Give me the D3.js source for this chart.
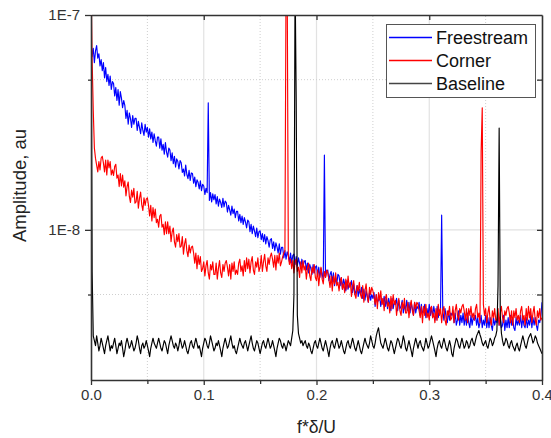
<!DOCTYPE html>
<html>
<head>
<meta charset="utf-8">
<script src="https://cdn.jsdelivr.net/npm/d3@7"></script>
<style>
  body { margin: 0; background: #fff; }
  svg { display: block; font-family: "Liberation Sans", Arial, sans-serif; }
</style>
</head>
<body>
<div id="chart"></div>
<script>
const width = 551;
const height = 438;
const margin = { top: 15, right: 9, bottom: 58, left: 91 };

// spectra, amplitude in units of 1e-9 au, one value per 0.001 of f*delta/U (0 .. 0.4)
const unit = 1e-9;
const df = 0.001;

const freestream = [
  75, 64, 70, 60, 68, 72, 63, 66, 58, 62,
  55, 60, 51, 57, 49, 53, 47, 52, 45, 49,
  48, 42, 46, 40, 45, 38, 44, 41, 37, 40,
  38, 33, 36, 31, 35, 33, 30, 34, 31, 33,
  33, 29, 32, 30, 28, 31.5, 29, 27.5, 31, 28.5,
  30, 27, 29.5, 26.5, 28.5, 25.5, 28, 26, 24.5, 27,
  27, 24, 26.5, 23.5, 25, 22.5, 25.5, 23, 21.8, 24,
  23.5, 21, 22.8, 20.3, 22, 19.6, 21.4, 20.8, 19.2, 21,
  20.5, 18.5, 19.2, 17.8, 20, 18.1, 17.3, 18.9, 17.0, 18.4,
  18.3, 16.5, 17.6, 15.9, 17.1, 16.6, 15.5, 16.9, 15.2, 16.3,
  16.0, 14.6, 15.6, 14.9, 39, 13.7, 14.9, 13.5, 14.7, 13.8,
  14.6, 13.2, 14.3, 12.9, 13.9, 13.4, 12.7, 14.0, 12.8, 13.6,
  13.4, 12.1, 13.0, 12.4, 11.7, 12.9, 11.9, 12.5, 11.4, 12.2,
  12.2, 11.0, 11.8, 10.8, 11.6, 10.6, 11.4, 10.9, 10.2, 11.1,
  10.9, 9.8, 10.6, 9.6, 10.4, 9.9, 9.3, 10.2, 9.2, 9.8,
  9.9, 9.0, 9.6, 8.8, 9.5, 8.6, 9.3, 8.9, 8.3, 9.0,
  9.1, 8.2, 8.8, 8.0, 8.7, 8.3, 7.8, 8.6, 7.7, 8.3,
  8.3, 7.4, 8.0, 7.3, 7.9, 7.6, 7.1, 7.8, 7.0, 7.6,
  7.7, 6.9, 7.5, 6.8, 7.4, 7.0, 6.6, 7.3, 6.7, 7.1,
  7.2, 6.5, 7.0, 6.3, 6.9, 6.6, 6.2, 6.9, 6.3, 6.7,
  6.8, 6.1, 6.7, 6.0, 6.6, 6.2, 5.9, 22.3, 6.0, 6.4,
  6.5, 5.8, 6.2, 6.4, 5.7, 6.3, 5.5, 6.0, 5.6, 6.2,
  6.1, 5.5, 6.0, 5.3, 5.9, 5.6, 5.2, 5.8, 5.3, 5.6,
  5.5, 5.8, 5.1, 5.6, 5.0, 5.2, 5.5, 4.9, 5.3, 5.0,
  5.4, 4.8, 5.3, 4.7, 5.2, 4.9, 4.6, 5.1, 4.7, 5.0,
  4.8, 5.1, 4.4, 5.0, 4.6, 4.7, 4.9, 4.4, 4.8, 4.5,
  4.9, 4.4, 4.8, 4.3, 4.8, 4.5, 4.2, 4.8, 4.3, 4.6,
  4.5, 4.8, 4.2, 4.7, 4.3, 4.4, 4.7, 4.1, 4.5, 4.2,
  4.7, 4.2, 4.6, 4.1, 4.6, 4.3, 4.0, 4.6, 4.1, 4.4,
  4.3, 4.6, 4.0, 4.5, 4.1, 4.2, 4.5, 3.9, 4.3, 4.0,
  4.5, 4.0, 4.4, 3.9, 4.4, 4.1, 3.8, 4.4, 3.9, 4.2,
  4.3, 11.7, 4.2, 3.8, 4.3, 3.9, 3.7, 4.2, 3.8, 4.1,
  4.0, 4.2, 3.7, 4.1, 3.6, 3.8, 4.2, 3.6, 4.0, 3.7,
  4.1, 3.6, 4.0, 3.6, 4.1, 3.7, 3.5, 4.0, 3.6, 3.9,
  3.8, 4.0, 3.6, 3.9, 3.5, 3.7, 4.0, 3.5, 3.8, 3.6,
  4.0, 3.5, 3.9, 3.5, 3.9, 3.6, 3.4, 3.9, 3.6, 3.8,
  3.7, 4.0, 3.6, 3.9, 3.5, 3.6, 4.0, 3.4, 3.8, 3.5,
  3.9, 3.5, 4.0, 3.6, 3.9, 3.5, 3.4, 3.9, 3.6, 3.8,
  3.6, 4.0, 3.5, 3.9, 3.6, 3.5, 3.9, 3.5, 3.8, 3.6,
  4.0, 3.5, 3.9, 3.6, 3.9, 3.6, 3.4, 3.8, 3.7, 4.0,
  4.6
];

const corner = [
  150, 62, 36, 24, 21.5, 20.0, 18.6, 20.8, 19.0, 21.6,
  22.0, 20.5, 18.6, 21.1, 18.0, 21.1, 19.4, 20.8, 18.0, 19.0,
  17.9, 19.7, 20.2, 17.4, 18.0, 15.9, 18.3, 16.0, 18.0, 15.8,
  16.9, 14.4, 15.9, 16.7, 14.3, 13.4, 15.3, 14.2, 15.6, 13.3,
  13.5, 15.1, 12.6, 14.0, 15.0, 13.1, 12.3, 14.1, 13.0, 13.9,
  14.1, 13.0, 11.6, 13.0, 11.0, 12.7, 11.4, 12.5, 10.8, 11.2,
  10.3, 11.6, 11.8, 10.3, 10.6, 9.5, 10.9, 9.6, 10.9, 9.6,
  10.4, 8.8, 9.8, 10.2, 8.8, 8.3, 9.5, 8.8, 9.6, 8.3,
  8.4, 9.3, 7.7, 8.6, 9.1, 8.0, 7.5, 8.5, 7.8, 8.3,
  8.4, 7.8, 7.0, 7.8, 6.6, 7.6, 6.9, 7.5, 6.4, 6.6,
  7.1, 6.1, 6.8, 7.2, 6.3, 5.9, 6.9, 6.5, 7.1, 6.2,
  6.2, 7.0, 5.9, 6.6, 7.2, 6.3, 6.0, 6.9, 6.4, 7.0,
  7.2, 6.7, 6.1, 6.9, 5.9, 7.0, 6.4, 7.1, 6.2, 6.5,
  6.2, 7.0, 7.3, 6.4, 6.8, 6.1, 7.2, 6.4, 7.4, 6.6,
  7.3, 6.3, 7.1, 7.5, 6.5, 6.2, 7.1, 6.7, 7.4, 6.4,
  6.7, 7.6, 6.4, 7.1, 7.7, 6.8, 6.4, 7.4, 6.9, 7.5,
  7.8, 7.3, 6.7, 7.6, 6.5, 7.6, 7.0, 7.8, 6.8, 7.1,
  7.5, 7.8, 8.0, 150, 150, 7.6, 6.9, 7.3, 6.6, 7.2,
  6.3, 7.1, 7.3, 6.4, 6.7, 6.0, 7.1, 6.3, 7.2, 6.5,
  6.8, 5.9, 6.6, 7.0, 6.1, 5.8, 6.7, 6.3, 6.9, 6.0,
  5.8, 6.5, 5.5, 6.2, 6.7, 5.9, 5.6, 6.4, 6.0, 6.5,
  6.3, 5.9, 5.4, 6.1, 5.2, 6.1, 5.6, 6.3, 5.5, 5.7,
  5.2, 5.8, 6.0, 5.3, 5.6, 5.1, 5.9, 5.3, 6.1, 5.4,
  5.7, 4.9, 5.5, 5.8, 5.0, 4.8, 5.5, 5.2, 5.7, 5.0,
  4.8, 5.5, 4.6, 5.2, 5.6, 4.9, 4.6, 5.4, 5.0, 5.4,
  5.2, 4.9, 4.5, 5.0, 4.3, 5.1, 4.7, 5.2, 4.5, 4.8,
  4.2, 4.8, 5.0, 4.4, 4.6, 4.1, 4.9, 4.3, 5.0, 4.5,
  4.7, 4.0, 4.5, 4.8, 4.2, 4.0, 4.6, 4.3, 4.8, 4.1,
  4.1, 4.6, 3.9, 4.4, 4.7, 4.2, 4.0, 4.6, 4.3, 4.6,
  4.5, 4.2, 3.9, 4.4, 3.7, 4.4, 4.0, 4.5, 3.9, 4.1,
  3.8, 4.3, 4.4, 3.9, 4.1, 3.7, 4.3, 3.8, 4.5, 4.0,
  4.3, 3.7, 4.2, 4.4, 3.8, 3.6, 4.2, 4.0, 4.4, 3.8,
  3.9, 4.4, 3.7, 4.2, 4.5, 4.0, 3.8, 4.3, 4.1, 4.4,
  4.5, 4.2, 3.8, 4.3, 3.7, 4.3, 4.0, 4.4, 3.9, 4.1,
  3.8, 4.3, 4.5, 3.9, 4.1, 3.7, 23, 37, 4.5, 4.0,
  4.3, 3.7, 4.1, 4.4, 3.8, 3.6, 4.2, 3.9, 4.3, 3.8,
  3.8, 4.3, 3.6, 4.1, 4.4, 3.9, 3.7, 4.2, 4.0, 4.3,
  4.4, 4.1, 3.7, 4.2, 3.6, 4.2, 3.9, 4.3, 3.8, 4.0,
  3.7, 4.2, 4.4, 3.8, 4.0, 3.6, 4.3, 3.8, 4.4, 3.9,
  4.3, 3.7, 4.1, 4.4, 3.8, 3.6, 4.2, 3.9, 4.3, 3.8,
  3.9
];

const baseline = [
  150, 6.4, 3.21, 3.05, 2.89, 3.21, 2.97, 2.73, 2.89, 3.13,
  2.97, 2.81, 2.65, 2.89, 3.05, 3.21, 2.97, 2.73, 2.89, 2.81,
  2.97, 3.13, 2.89, 2.65, 2.81, 2.97, 2.89, 3.05, 2.81, 2.57,
  2.73, 2.97, 3.13, 2.97, 2.81, 2.89, 3.05, 2.89, 2.73, 2.81,
  2.97, 3.21, 3.05, 2.81, 2.65, 2.89, 2.97, 2.81, 2.89, 3.05,
  2.89, 2.73, 2.57, 2.81, 2.97, 3.13, 2.97, 2.89, 2.81, 2.97,
  3.13, 2.97, 2.81, 2.73, 2.89, 3.05, 2.97, 2.81, 2.65, 2.89,
  3.05, 3.21, 3.05, 2.89, 2.81, 2.97, 2.89, 2.73, 2.89, 3.13,
  2.97, 2.81, 2.89, 3.05, 2.89, 2.73, 2.65, 2.81, 2.97, 3.05,
  2.89, 2.81, 2.97, 3.13, 2.97, 2.81, 2.89, 2.73, 2.57, 2.81,
  2.97, 3.13, 3.05, 2.89, 2.81, 2.97, 3.21, 3.05, 2.89, 2.73,
  2.81, 2.97, 2.89, 3.05, 2.89, 2.73, 2.57, 2.81, 2.97, 3.13,
  2.97, 2.81, 2.89, 3.05, 3.21, 2.97, 2.81, 2.89, 2.73, 2.65,
  2.81, 2.97, 3.13, 2.97, 2.89, 2.81, 2.97, 3.05, 2.89, 2.73,
  2.89, 3.05, 3.21, 2.97, 2.81, 2.73, 2.89, 3.05, 2.97, 2.81,
  2.65, 2.81, 2.97, 3.05, 2.89, 2.81, 2.97, 3.13, 2.97, 2.81,
  2.89, 3.05, 2.89, 2.73, 2.57, 2.81, 2.97, 3.13, 3.05, 2.89,
  2.81, 2.97, 2.89, 2.73, 2.89, 3.05, 2.97, 2.89, 3.13, 3.4,
  5.0, 150, 40, 4.0, 3.3, 3.13, 2.97, 3.05, 2.89, 2.97,
  3.05, 2.89, 2.81, 2.97, 2.89, 2.73, 2.65, 2.81, 2.97, 3.05,
  2.89, 2.81, 2.97, 3.13, 2.97, 2.81, 2.73, 2.89, 3.05, 2.89,
  2.73, 2.57, 2.81, 2.97, 3.05, 2.89, 2.81, 2.97, 3.13, 2.97,
  2.81, 2.89, 3.05, 2.89, 2.73, 2.65, 2.81, 2.97, 3.05, 2.89,
  2.81, 2.97, 3.13, 2.97, 2.81, 2.73, 2.89, 3.05, 2.89, 2.73,
  2.65, 2.81, 2.97, 3.13, 2.97, 2.89, 2.81, 2.97, 3.21, 3.05,
  2.89, 2.81, 2.97, 3.21, 3.37, 3.5, 3.21, 2.97, 2.89, 2.81,
  2.97, 3.13, 2.97, 2.81, 2.73, 2.89, 3.05, 2.97, 2.81, 2.65,
  2.81, 2.97, 3.13, 3.05, 2.89, 2.81, 2.97, 3.21, 3.05, 2.81,
  2.73, 2.89, 3.05, 2.89, 2.73, 2.57, 2.81, 2.97, 3.13, 2.97,
  2.81, 2.97, 3.05, 2.89, 2.81, 2.73, 2.89, 3.13, 2.97, 2.81,
  2.89, 3.05, 3.21, 3.05, 2.89, 2.73, 2.57, 2.81, 2.97, 3.05,
  2.89, 2.81, 2.97, 3.13, 2.97, 2.81, 2.73, 2.89, 3.05, 2.89,
  2.65, 2.57, 2.81, 2.97, 3.13, 3.05, 2.89, 2.81, 2.97, 3.13,
  2.97, 2.81, 2.89, 3.05, 2.97, 2.81, 2.89, 3.05, 3.13, 2.97,
  2.89, 3.05, 3.21, 3.3, 3.4, 3.25, 3.13, 2.97, 2.89, 2.97,
  3.05, 2.89, 2.81, 2.97, 3.13, 3.05, 2.89, 2.97, 3.13, 3.21,
  3.4, 5.5, 29.8, 4.0, 3.3, 3.05, 2.89, 2.97, 3.13, 3.05,
  2.89, 2.81, 2.97, 3.05, 2.89, 2.81, 2.73, 2.89, 2.97, 2.81,
  2.73, 2.89, 3.05, 3.21, 3.05, 2.89, 2.81, 2.97, 3.13, 3.21,
  3.29, 3.13, 2.97, 3.05, 3.21, 3.13, 2.97, 2.89, 2.81, 2.73,
  2.65
];

const seriesNames = ["Freestream", "Corner", "Baseline"];
const seriesColors = ["#0000ff", "#ff0000", "#000000"];
const legendColors = ["#0000ff", "#ff0000", "#444444"];
const seriesValues = [freestream, corner, baseline];

const xMajorTicks = [0, 0.1, 0.2, 0.3, 0.4];
const xTickLabels = ["0.0", "0.1", "0.2", "0.3", "0.4"];
const xMinorTicks = [0.05, 0.15, 0.25, 0.35];
const yMajorTicks = [1e-8, 1e-7];
const yTickLabels = ["1E-8", "1E-7"];
const yMinorTicks = [5e-9, 5e-8];

const svg = d3.select("#chart")
    .append("svg")
    .attr("width", width)
    .attr("height", height);

const xScale = d3.scaleLinear()
    .domain([0, 0.4])
    .range([margin.left, width - margin.right]);
const yScale = d3.scaleLog()
    .domain([2e-9, 1e-7])
    .range([height - margin.bottom, margin.top]);

const x0 = margin.left, x1 = width - margin.right;
const y0 = height - margin.bottom, y1 = margin.top;

// grid
const grid = svg.append("g");
grid.selectAll(".gx").data(xMajorTicks.slice(1, -1)).join("line")
    .attr("x1", d => xScale(d)).attr("x2", d => xScale(d))
    .attr("y1", y0).attr("y2", y1)
    .attr("stroke", "#e2e2e2").attr("stroke-width", 1.2);
grid.selectAll(".gxm").data(xMinorTicks).join("line")
    .attr("x1", d => xScale(d)).attr("x2", d => xScale(d))
    .attr("y1", y0).attr("y2", y1)
    .attr("stroke", "#cfcfcf").attr("stroke-width", 1)
    .attr("stroke-dasharray", "1,2");
grid.selectAll(".gy").data([1e-8]).join("line")
    .attr("x1", x0).attr("x2", x1)
    .attr("y1", d => yScale(d)).attr("y2", d => yScale(d))
    .attr("stroke", "#e2e2e2").attr("stroke-width", 1.2);
grid.selectAll(".gym").data(yMinorTicks).join("line")
    .attr("x1", x0).attr("x2", x1)
    .attr("y1", d => yScale(d)).attr("y2", d => yScale(d))
    .attr("stroke", "#cfcfcf").attr("stroke-width", 1)
    .attr("stroke-dasharray", "1,2");

// data lines
svg.append("clipPath").attr("id", "clip")
    .append("rect")
    .attr("x", x0).attr("y", y1)
    .attr("width", x1 - x0).attr("height", y0 - y1);

const line = d3.line()
    .x((d, i) => xScale(i * df))
    .y(d => yScale(d * unit));

const plot = svg.append("g").attr("clip-path", "url(#clip)");
seriesValues.forEach((vals, k) => {
    plot.append("path")
        .datum(vals)
        .attr("fill", "none")
        .attr("stroke", seriesColors[k])
        .attr("stroke-width", 1.15)
        .attr("stroke-linejoin", "round")
        .attr("d", line);
});

// axes
const axisColor = "#333";

svg.append("g")
    .attr("transform", `translate(0,${y0})`)
    .call(d3.axisBottom(xScale)
        .tickValues(xMajorTicks)
        .tickFormat((d, i) => xTickLabels[i])
        .tickSize(5)
        .tickPadding(4)
        .tickSizeOuter(0));
svg.append("g")
    .attr("transform", `translate(0,${y0})`)
    .call(d3.axisBottom(xScale).tickValues(xMinorTicks).tickFormat("").tickSize(4).tickSizeOuter(0))
    .select(".domain").remove();

svg.append("g")
    .attr("transform", `translate(${x0},0)`)
    .call(d3.axisLeft(yScale)
        .tickValues(yMajorTicks)
        .tickFormat((d, i) => yTickLabels[i])
        .tickSize(6)
        .tickPadding(5)
        .tickSizeOuter(0));
svg.append("g")
    .attr("transform", `translate(${x0},0)`)
    .call(d3.axisLeft(yScale).tickValues(yMinorTicks).tickFormat("").tickSize(3).tickSizeOuter(0))
    .select(".domain").remove();

// top and right frame with inward ticks
svg.append("g")
    .attr("transform", `translate(0,${y1})`)
    .call(d3.axisTop(xScale).tickValues(xMajorTicks.slice(1, -1)).tickFormat("").tickSize(-5).tickSizeOuter(0));
svg.append("g")
    .attr("transform", `translate(${x1},0)`)
    .call(d3.axisRight(yScale).tickValues(yMinorTicks.concat([1e-8])).tickFormat("").tickSize(-5).tickSizeOuter(0));

svg.selectAll(".domain").attr("stroke", axisColor).attr("stroke-width", 1.6);
svg.selectAll(".tick line").attr("stroke", axisColor).attr("stroke-width", 1.3);
svg.selectAll(".tick text")
    .attr("fill", "#333")
    .style("font-size", "15px")
    .style("font-family", "'Liberation Sans', Arial, sans-serif");

// axis titles
svg.append("text")
    .attr("x", (x0 + x1) / 2)
    .attr("y", 433)
    .attr("text-anchor", "middle")
    .attr("fill", "#222")
    .style("font-size", "17.5px")
    .text("f*δ/U");
svg.append("text")
    .attr("transform", "rotate(-90)")
    .attr("x", -(y0 + y1) / 2 + 12)
    .attr("y", 26)
    .attr("text-anchor", "middle")
    .attr("fill", "#222")
    .style("font-size", "18.5px")
    .text("Amplitude, au");

// legend
const legendData = seriesNames.map((name, i) => ({ name, color: legendColors[i] }));
const legend = svg.append("g").attr("transform", "translate(386,24)");
legend.append("rect")
    .attr("x", 0.5).attr("y", 0.5)
    .attr("width", 149).attr("height", 73)
    .attr("fill", "#fff")
    .attr("stroke", "#555")
    .attr("stroke-width", 1);
const items = legend.selectAll(".legend-item")
    .data(legendData)
    .join("g")
    .attr("class", "legend-item")
    .attr("transform", (d, i) => `translate(0, ${13 + i * 23})`);
items.append("line")
    .attr("x1", 3).attr("x2", 46)
    .attr("y1", 0.5).attr("y2", 0.5)
    .style("stroke", d => d.color)
    .style("stroke-width", "1.5px");
items.append("text")
    .attr("x", 50)
    .attr("y", 6.5)
    .attr("fill", "#111")
    .style("font-size", "18px")
    .text(d => d.name);
</script>
</body>
</html>
